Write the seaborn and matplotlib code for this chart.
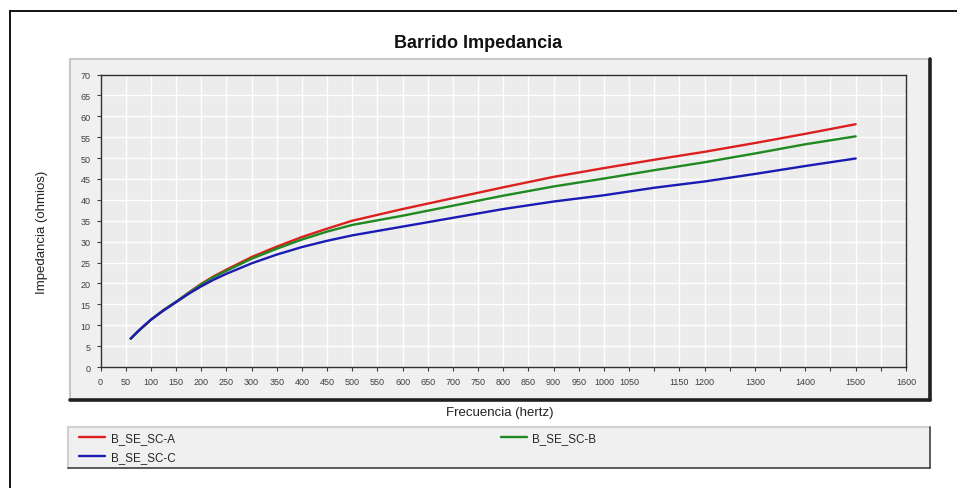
import numpy as np
import pandas as pd
import seaborn as sns
import matplotlib.pyplot as plt
from matplotlib.patches import Rectangle
from matplotlib.lines import Line2D

# frequency sweep (Hz) and impedance (ohm)
freq = [60, 75, 100, 125, 150, 175, 200, 225, 250, 300, 350, 400, 450, 500,
        600, 700, 800, 900, 1000, 1100, 1200, 1300, 1400, 1500]
imp_a = [6.8, 8.6, 11.3, 13.6, 15.6, 17.8, 19.9, 21.7, 23.3, 26.3, 28.8, 31.1,
         33.1, 35.0, 37.8, 40.4, 43.0, 45.5, 47.6, 49.6, 51.5, 53.6, 55.8, 58.1]
imp_b = [6.8, 8.6, 11.3, 13.6, 15.6, 17.7, 19.7, 21.5, 23.0, 25.9, 28.3, 30.5,
         32.4, 34.0, 36.2, 38.6, 41.0, 43.2, 45.1, 47.1, 49.0, 51.1, 53.3, 55.2]
imp_c = [6.8, 8.6, 11.3, 13.5, 15.5, 17.5, 19.3, 20.9, 22.3, 24.8, 26.9, 28.7,
         30.2, 31.5, 33.6, 35.7, 37.8, 39.6, 41.1, 42.9, 44.4, 46.2, 48.1, 49.9]
series = ["B_SE_SC-A", "B_SE_SC-B", "B_SE_SC-C"]
colors = ["#dc2020", "#1f8a1f", "#1a1ab4"]

x_ticks = list(range(0, 1650, 50))
x_hidden = [1100, 1250, 1350, 1450, 1550]
y_ticks = list(range(0, 75, 5))

df = pd.concat([
    pd.DataFrame({"freq": freq, "imp": vals, "serie": name})
    for name, vals in zip(series, [imp_a, imp_b, imp_c])
])

sns.set_style("whitegrid", {"axes.facecolor": "#ececec", "grid.color": "white",
                            "axes.edgecolor": "#303030"})
plt.rcParams["font.family"] = ["Liberation Sans", "DejaVu Sans"]

W, H = 957, 489
fig = plt.figure(figsize=(W / 100, H / 100), dpi=100)
fig.patch.set_facecolor("white")


def fx(px):
    return px / W


def fy(py):
    return 1 - py / H


def box(x0, y0, x1, y1, light="#c8c8c8", dark="#202020", dw=1.2, z=-2):
    fig.patches.append(Rectangle((fx(x0), fy(y1)), fx(x1) - fx(x0), fy(y0) - fy(y1),
                                 transform=fig.transFigure, facecolor="#f0f0f0",
                                 edgecolor="none", zorder=z))
    fig.lines.append(Line2D([fx(x0), fx(x1)], [fy(y0), fy(y0)], transform=fig.transFigure,
                            color=light, lw=1.5, zorder=z + 0.5))
    fig.lines.append(Line2D([fx(x0), fx(x0)], [fy(y0), fy(y1)], transform=fig.transFigure,
                            color=light, lw=1.5, zorder=z + 0.5))
    fig.lines.append(Line2D([fx(x0), fx(x1)], [fy(y1), fy(y1)], transform=fig.transFigure,
                            color=dark, lw=dw, zorder=z + 0.5))
    fig.lines.append(Line2D([fx(x1), fx(x1)], [fy(y0), fy(y1)], transform=fig.transFigure,
                            color=dark, lw=dw, zorder=z + 0.5))


# outer frame (top and left edges only are visible)
fig.lines.append(Line2D([fx(10), 1], [fy(12), fy(12)], transform=fig.transFigure, color="black", lw=1.3))
fig.lines.append(Line2D([fx(10), fx(10)], [fy(12), 0], transform=fig.transFigure, color="black", lw=1.3))

# chart panel with shadow, and legend panel
box(70, 60, 930, 401, dw=2.6)
box(68, 428, 930, 469, light="#d0d0d0", dark="#404040", dw=1.2)

ax = fig.add_axes([fx(100.5), fy(368), fx(906) - fx(100.5), fy(75.5) - fy(368)])
sns.lineplot(data=df, x="freq", y="imp", hue="serie", palette=colors,
             linewidth=1.7, legend=False, ax=ax)

ax.set_xlim(0, 1600)
ax.set_ylim(0, 70)
ax.set_xticks(x_ticks)
ax.set_xticklabels(["" if t in x_hidden else str(t) for t in x_ticks])
ax.set_yticks(y_ticks)
ax.tick_params(axis="both", labelsize=6.5, colors="#404040", length=3, width=0.8,
               direction="out", bottom=True, left=True, pad=4)
ax.grid(True, color="white", linewidth=1)
for s in ax.spines.values():
    s.set_linewidth(1)
ax.set_xlabel("")
ax.set_ylabel("")

fig.text(fx(478), fy(44), "Barrido Impedancia", ha="center", va="center",
         fontsize=13, fontweight="bold", color="#111111")
fig.text(fx(500), fy(413), "Frecuencia (hertz)", ha="center", va="center",
         fontsize=9.5, color="#222222")
fig.text(fx(42), fy(232), "Impedancia (ohmios)", ha="center", va="center",
         rotation=90, fontsize=9.5, color="#222222")

handles = ax.get_lines()[:3]
# order so the rows read A, B / C
order = [0, 2, 1]
fig.legend([handles[i] for i in order], [series[i] for i in order],
           loc="upper left", bbox_to_anchor=(fx(70.5), fy(424.5)), ncol=2,
           frameon=False, fontsize=8.4, handlelength=2.3, handletextpad=0.43,
           columnspacing=27.9, labelspacing=0.6, borderpad=0.2)

plt.savefig("out.png", dpi=100)
